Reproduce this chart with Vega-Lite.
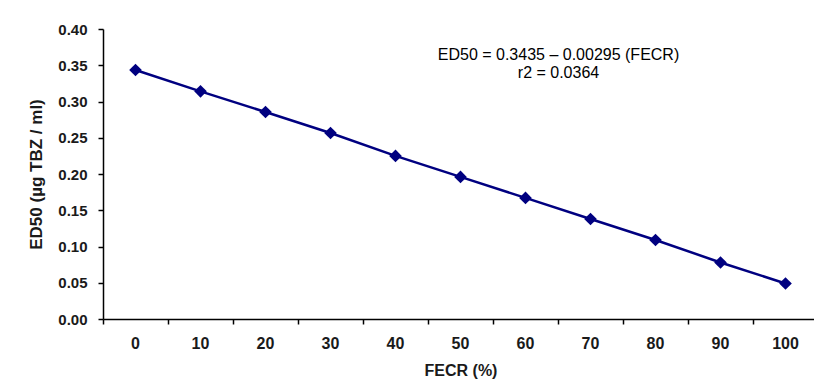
{
  "$schema": "https://vega.github.io/schema/vega-lite/v6.json",
  "width": 715,
  "height": 290,
  "autosize": "none",
  "padding": {"left": 103, "top": 29, "right": 0, "bottom": 73},
  "background": "white",
  "config": {
    "view": {"stroke": null},
    "font": "Liberation Sans",
    "axis": {
      "labelFont": "Liberation Sans",
      "labelFontWeight": "bold",
      "labelColor": "#1a1a1a",
      "labelOverlap": false,
      "titleFont": "Liberation Sans",
      "titleFontWeight": "bold",
      "titleColor": "#1a1a1a",
      "domainColor": "#000000",
      "domainWidth": 1.5,
      "tickColor": "#000000",
      "tickWidth": 1.5,
      "tickSize": 5,
      "grid": false
    }
  },
  "encoding": {
    "x": {
      "field": "FECR",
      "type": "ordinal",
      "sort": null,
      "scale": {"type": "band", "paddingInner": 0, "paddingOuter": 0},
      "axis": {"title": "FECR (%)", "labelAngle": 0, "bandPosition": 0, "labelPadding": 11, "titlePadding": 11, "labelFontSize": 16, "titleFontSize": 16}
    },
    "y": {
      "field": "ED50",
      "type": "quantitative",
      "scale": {"domain": [0, 0.4], "nice": false},
      "axis": {"title": "ED50 (µg TBZ / ml)", "values": [0, 0.05, 0.1, 0.15, 0.2, 0.25, 0.3, 0.35, 0.4], "labelOverlap": false, "format": ".2f", "labelPadding": 11, "titlePadding": 12, "labelFontSize": 15, "titleFontSize": 17}
    }
  },
  "layer": [
    {
      "data": {
        "values": [
          {"FECR": "0", "ED50": 0.3435},
          {"FECR": "10", "ED50": 0.314},
          {"FECR": "20", "ED50": 0.2855},
          {"FECR": "30", "ED50": 0.2565},
          {"FECR": "40", "ED50": 0.225},
          {"FECR": "50", "ED50": 0.196},
          {"FECR": "60", "ED50": 0.167},
          {"FECR": "70", "ED50": 0.138},
          {"FECR": "80", "ED50": 0.109},
          {"FECR": "90", "ED50": 0.078},
          {"FECR": "100", "ED50": 0.049}
        ]
      },
      "layer": [
        {"mark": {"type": "line", "color": "#000080", "strokeWidth": 2.5}},
        {"mark": {"type": "point", "shape": "diamond", "filled": true, "color": "#000080", "opacity": 1, "size": 160}}
      ]
    },
    {
      "data": {
        "values": [
          {"FECR": "60", "ED50": 0.364, "label": ["ED50 = 0.3435 – 0.00295 (FECR)", "r2 = 0.0364"]}
        ]
      },
      "mark": {"type": "text", "fontSize": 16, "color": "#000000", "align": "center", "baseline": "middle", "lineHeight": 18, "dx": 33},
      "encoding": {
        "text": {"field": "label"}
      }
    }
  ]
}
